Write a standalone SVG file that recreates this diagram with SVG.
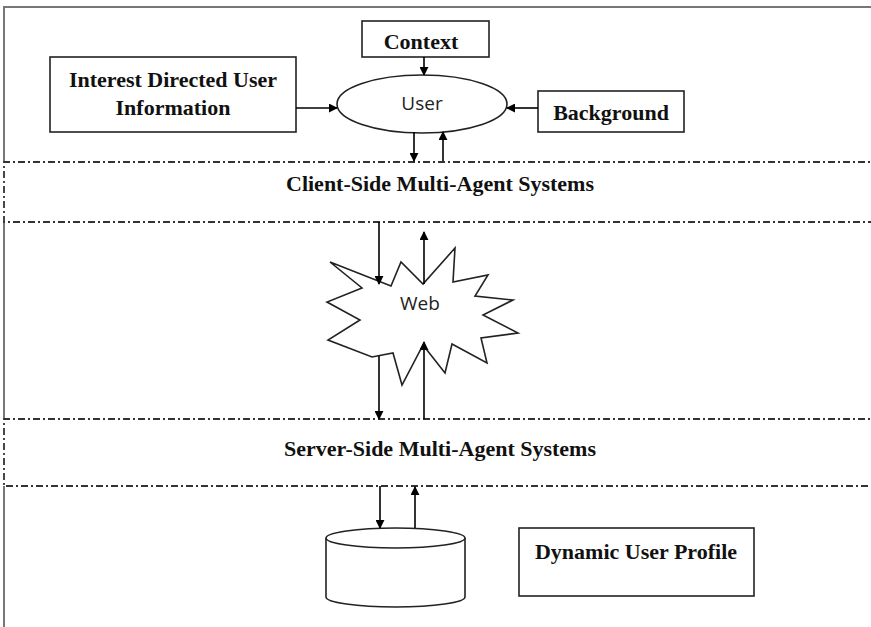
<svg xmlns="http://www.w3.org/2000/svg" width="871" height="627" viewBox="0 0 871 627">
<defs>
<marker id="ah" viewBox="0 0 10 10" refX="9" refY="5" markerWidth="9" markerHeight="9" markerUnits="userSpaceOnUse" orient="auto">
<path d="M0,0 L10,5 L0,10 Z" fill="#000"/>
</marker>
<style>
.box{fill:#fff;stroke:#222;stroke-width:1.6}
.lbl{font-family:"Liberation Serif",serif;font-weight:bold;font-size:22px;fill:#111;text-anchor:middle}
.sans{font-family:"Open Sans","Liberation Sans",sans-serif;font-size:19px;fill:#222;text-anchor:middle}
.band{fill:none;stroke:#333;stroke-width:1.8;stroke-dasharray:7 3 2 3}
.frame{stroke:#777;stroke-width:2;fill:none}
.conn{stroke:#000;stroke-width:1.6;fill:none;marker-end:url(#ah)}
</style>
</defs>
<rect width="871" height="627" fill="#fff"/>
<g id="frame">
<line class="frame" x1="4" y1="7" x2="871" y2="7"/>
<line class="frame" x1="4" y1="6" x2="4" y2="162"/>
<line class="frame" x1="4" y1="222" x2="4" y2="419"/>
<line class="frame" x1="4" y1="486" x2="4" y2="627"/>
</g>
<g id="client-band">
<path class="band" d="M880,162 H4 V222 H880"/>
<text class="lbl" x="440" y="191">Client-Side Multi-Agent Systems</text>
</g>
<g id="server-band">
<path class="band" d="M880,419 H4 V486 H880"/>
<text class="lbl" x="440" y="456">Server-Side Multi-Agent Systems</text>
</g>
<g id="context">
<rect class="box" x="362" y="21" width="127" height="36"/>
<text class="lbl" x="421" y="49">Context</text>
</g>
<g id="interest">
<rect class="box" x="50" y="57" width="246" height="75"/>
<text class="lbl" x="173" y="87">Interest Directed User</text>
<text class="lbl" x="173" y="115">Information</text>
</g>
<g id="user">
<ellipse class="box" cx="422" cy="104" rx="85" ry="29"/>
<text class="sans" x="422" y="110">User</text>
</g>
<g id="background">
<rect class="box" x="538" y="91" width="146" height="41"/>
<text class="lbl" x="611" y="120">Background</text>
</g>
<g id="web">
<polygon class="box" points="330,262 391,286 401,262 423,284 455,248 453,282 488,275 475,296 513,300 483,315 518,333 481,338 487,363 452,344 445,373 423,345 402,385 393,353 372,357 328,340 360,320 327,302 362,288"/>
<text class="sans" x="420" y="310">Web</text>
</g>
<g id="database">
<path class="box" d="M326,538 V597 A69.5,10 0 0 0 465,597 V538"/>
<ellipse class="box" cx="395.5" cy="538" rx="69.5" ry="10"/>
</g>
<g id="profile">
<rect class="box" x="519" y="528" width="235" height="68"/>
<text class="lbl" x="636" y="559">Dynamic User Profile</text>
</g>
<g id="connectors">
<line class="conn" x1="424" y1="57" x2="424" y2="75"/>
<line class="conn" x1="296" y1="108" x2="337" y2="108"/>
<line class="conn" x1="538" y1="108" x2="507" y2="108"/>
<line class="conn" x1="414" y1="132" x2="414" y2="161"/>
<line class="conn" x1="443" y1="161" x2="443" y2="132"/>
<line class="conn" x1="379" y1="222" x2="379" y2="284"/>
<line class="conn" x1="424" y1="284" x2="424" y2="232"/>
<line class="conn" x1="379" y1="356" x2="379" y2="419"/>
<line class="conn" x1="424" y1="419" x2="424" y2="342"/>
<line class="conn" x1="380" y1="486" x2="380" y2="528"/>
<line class="conn" x1="415" y1="528" x2="415" y2="487"/>
</g>
</svg>
